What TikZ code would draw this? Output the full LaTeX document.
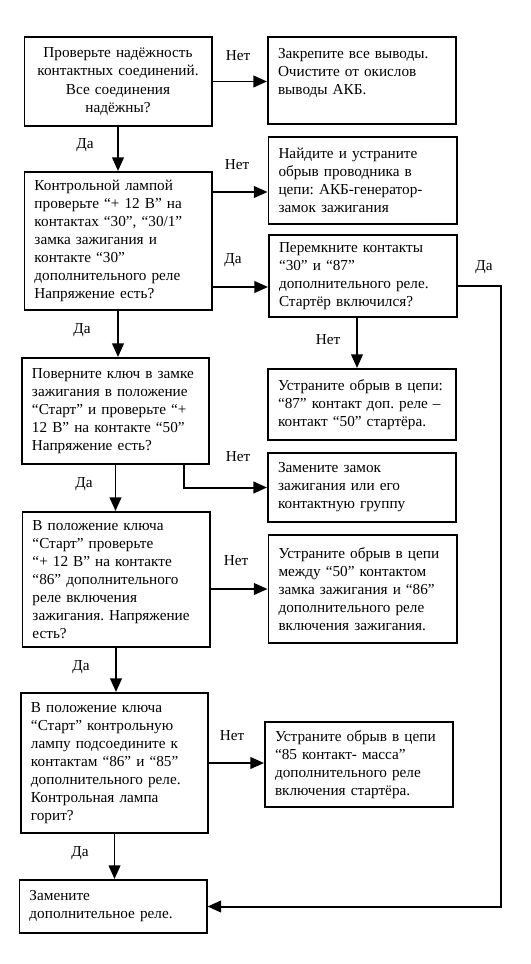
\documentclass[tikz,border=0pt]{standalone}
\usepackage{fontspec}
\setmainfont{Liberation Serif}
\usepackage{tikz}
\usetikzlibrary{arrows.meta, positioning, calc}
\frenchspacing

\begin{document}
\begin{tikzpicture}[
  x=0.03cm, y=-0.03cm,
  font=\fontsize{13}{15.4}\selectfont,
  box/.style={draw, line width=1.7pt, text width=5.01cm, inner xsep=0.3cm, align=left},
  note/.style={draw, line width=1.7pt, text width=5.04cm, inner xsep=0.3cm, align=left},
  a/.style={-{Triangle[length=4.1mm, width=3.5mm]}, line width=1.7pt},
  lbl/.style={inner sep=1pt}
]
\useasboundingbox (0,0) rectangle (530,964);
% left column: checks
\node[box, align=center, minimum height=2.67cm] (chk1) at (118,81.5) {Проверьте надёжность\\контактных соединений.\\Все соединения\\надёжны?};
\node[box, minimum height=4.14cm] (chk2) at (118,241) {Контрольной лампой\\проверьте “+ 12 В” на\\контактах “30”, “30/1”\\замка зажигания и\\контакте “30”\\дополнительного реле\\Напряжение есть?};
\node[box, minimum height=3.18cm] (chk3) at (115.5,411) {Поверните ключ в замке\\зажигания в положение\\“Старт” и проверьте “+\\12 В” на контакте “50”\\Напряжение есть?};
\node[box, minimum height=4.05cm] (chk4) at (116,579.5) {В положение ключа\\“Старт” проверьте\\“+ 12 В” на контакте\\“86” дополнительного\\реле включения\\зажигания. Напряжение\\есть?};
\node[box, minimum height=4.2cm] (chk5) at (114.5,763) {В положение ключа\\“Старт” контрольную\\лампу подсоедините к\\контактам “86” и “85”\\дополнительного реле.\\Контрольная лампа\\горит?};
\node[box, minimum height=1.59cm] (relay) at (113,906.5) {Замените\\дополнительное реле.};
% right column: repairs
\node[note, minimum height=2.61cm] (fix1) at (362,80.5) {Закрепите все выводы.\\Очистите от окислов\\выводы АКБ.\\\mbox{}};
\node[note, minimum height=2.61cm] (fix2) at (362.5,180.5) {Найдите и устраните\\обрыв проводника в\\цепи: АКБ-генератор-\\замок зажигания};
\node[note, minimum height=2.46cm] (jump) at (363,276) {Перемкните контакты\\“30” и “87”\\дополнительного реле.\\Стартёр включился?};
\node[note, minimum height=2.13cm] (fix3) at (362,404.5) {Устраните обрыв в цепи:\\“87” контакт доп. реле –\\контакт “50” стартёра.};
\node[note, minimum height=2.07cm] (fix4) at (362,487.5) {Замените замок\\зажигания или его\\контактную группу};
\node[note, minimum height=3.24cm] (fix5) at (362.5,589) {Устраните обрыв в цепи\\между “50” контактом\\замка зажигания и “86”\\дополнительного реле\\включения зажигания.};
\node[note, minimum height=2.55cm] (fix6) at (359,764.5) {Устраните обрыв в цепи\\“85 контакт- масса”\\дополнительного реле\\включения стартёра.};
% connectors
\draw[a] (chk1.east) -- (chk1.east -| fix1.west);
\draw[a] (chk1.south) -- (chk2.north);
\draw[a] ($(chk2.east)+(0,-49)$) -- ($(fix2.west)+(0,11.5)$);
\draw[a] ($(chk2.east)+(0,46)$) -- ($(jump.west)+(0,11)$);
\draw[a] ($(jump.east)+(0,10)$) -- ++(43,0) |- (relay.east);
\coordinate (jd) at ($(jump.south)+(-6,0)$);
\draw[a] (jd) -- (jd |- fix3.north);
\draw[a] (chk2.south) -- (chk2.south |- chk3.north);
\draw[a] ($(chk3.south east)+(-26,0)$) |- (fix4.west);
\draw[a] (chk3.south) -- (chk3.south |- chk4.north);
\draw[a] (fix5.west -| chk4.east) -- (fix5.west);
\draw[a] (chk4.south) -- (chk4.south |- chk5.north);
\draw[a] (chk5.east) -- (chk5.east -| fix6.west);
\draw[a] (chk5.south) -- (chk5.south |- relay.north);
% labels
\node[lbl] (no1) at (238,56) {Нет};
\node[lbl] (yes1) at (85,145) {Да};
\node[lbl] (no2) at (237,165) {Нет};
\node[lbl] (yes2) at (233,260) {Да};
\node[lbl] (yes3) at (484,267) {Да};
\node[lbl] (yes4) at (82,330) {Да};
\node[lbl] (no3) at (328,340) {Нет};
\node[lbl] (no4) at (238,457) {Нет};
\node[lbl] (yes5) at (84,484) {Да};
\node[lbl] (no5) at (236,561) {Нет};
\node[lbl] (yes6) at (81,667) {Да};
\node[lbl] (no6) at (232,736) {Нет};
\node[lbl] (yes7) at (80,853) {Да};
\end{tikzpicture}
\end{document}
